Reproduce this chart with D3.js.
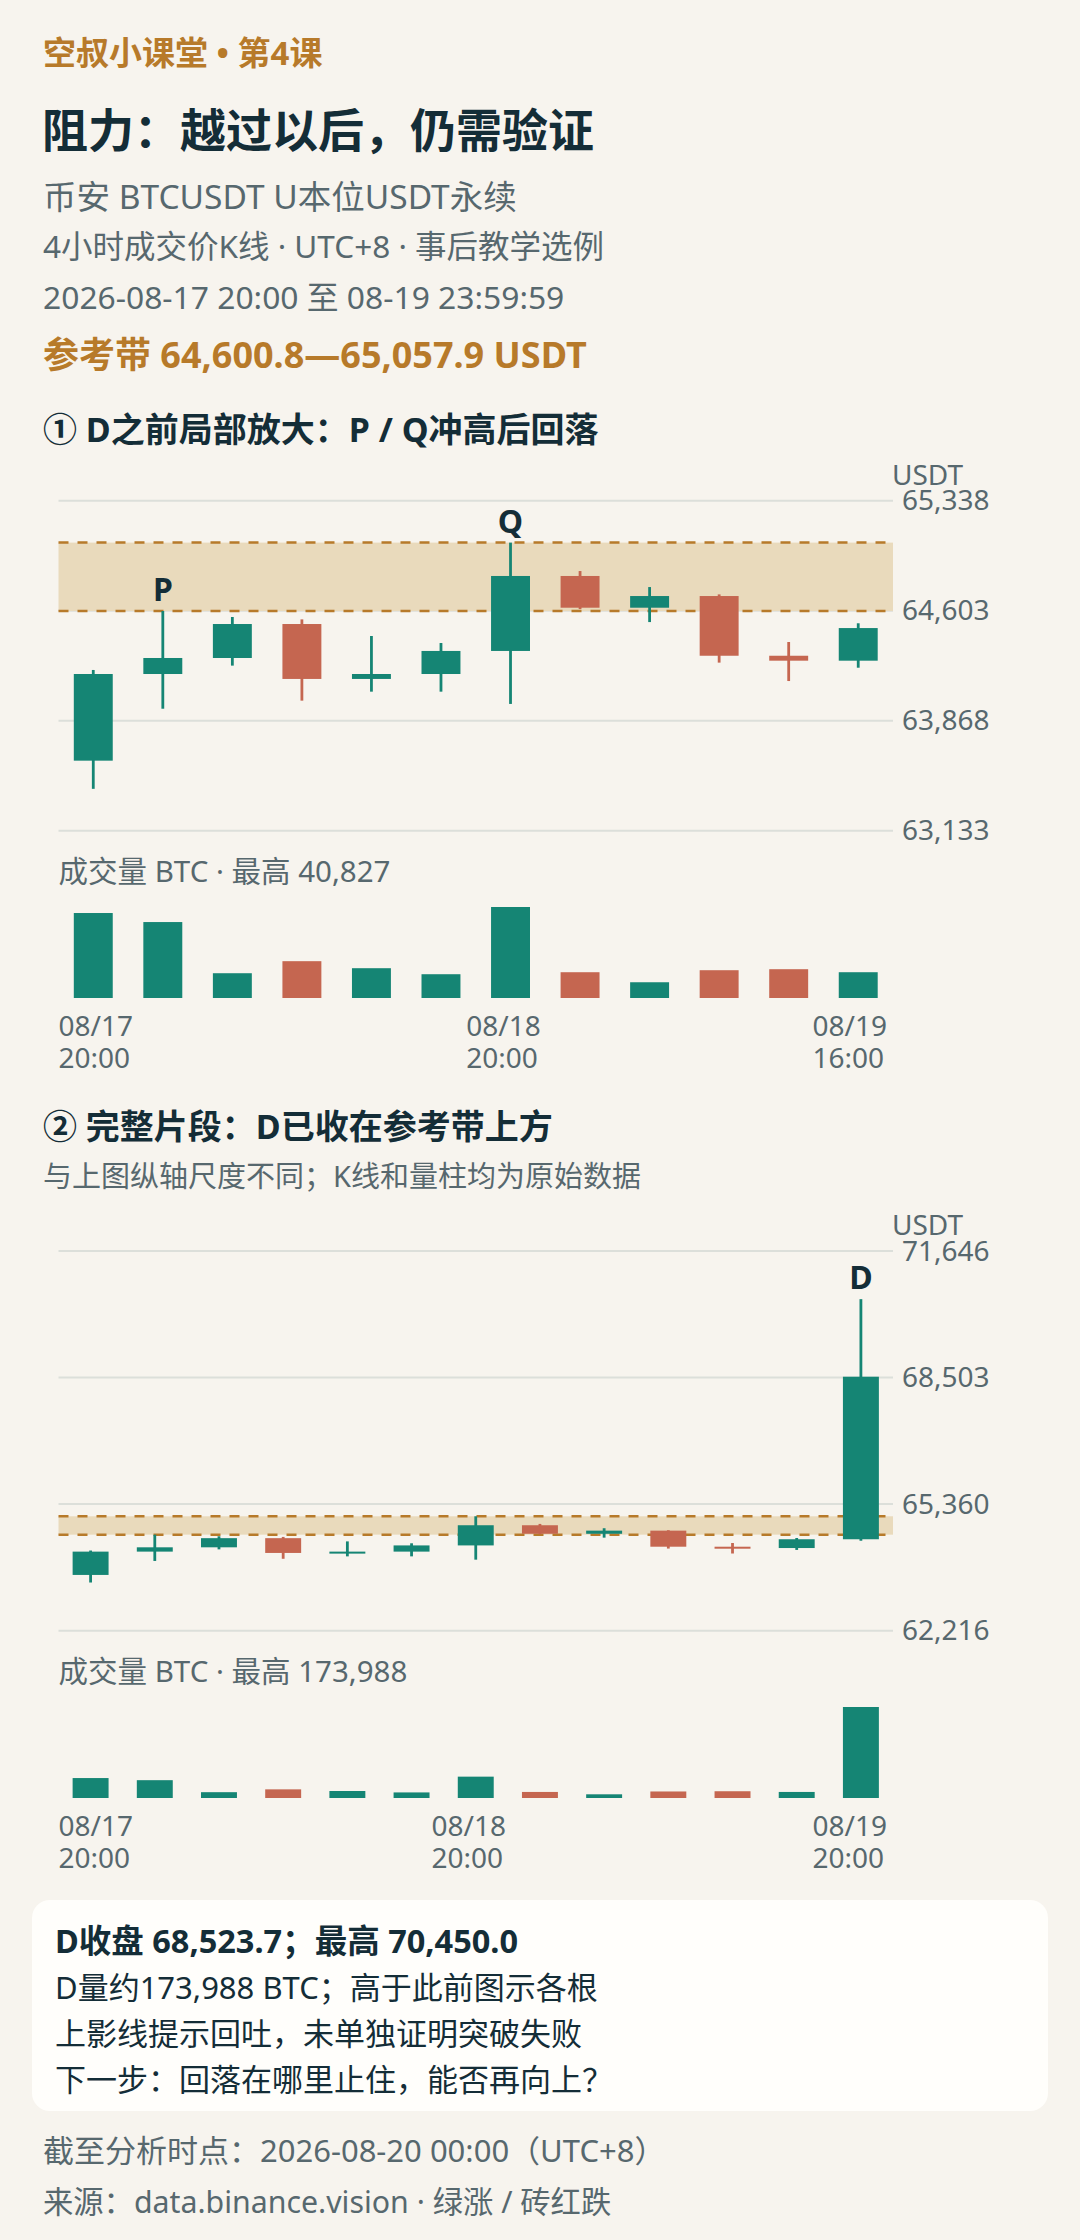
<!DOCTYPE html>
<html>
<head>
<meta charset="utf-8">
<script src="https://cdn.jsdelivr.net/npm/d3@7"></script>
<style>
  html, body { margin: 0; padding: 0; background: #f7f4ee; }
  svg { display: block; }
  text { font-family: "Noto Sans", "Noto Sans CJK SC", sans-serif; }
</style>
</head>
<body>
<svg id="chart" width="1080" height="2240"></svg>
<script>
/* DATA */
const times = ["08/17 20:00", "08/18 00:00", "08/18 04:00", "08/18 08:00", "08/18 12:00", "08/18 16:00",
  "08/18 20:00", "08/19 00:00", "08/19 04:00", "08/19 08:00", "08/19 12:00", "08/19 16:00", "08/19 20:00"];
const opens  = [63601, 64180, 64287, 64514, 64147, 64180, 64334, 64835, 64623, 64701, 64302, 64269, 64487];
const highs  = [64207, 64600.8, 64561, 64545, 64434, 64387, 65057.9, 64868, 64761, 64712, 64394, 64519, 70450.0];
const lows   = [63412.7, 63948, 64236, 64002, 64062, 64062, 63980, 64614, 64527, 64256, 64133, 64222, 64450];
const closes = [64180, 64287, 64514, 64147, 64180, 64334, 64835, 64623, 64701, 64302, 64269, 64487, 68523.7];
const volumes = [38126, 34075, 11118, 16520, 13369, 10668, 40827, 11568, 7067, 12469, 12919, 11568, 173988];

const band = [64600.8, 65057.9];
const ticksZoom = [63133, 63868, 64603, 65338];
const ticksFull = [62216, 65360, 68503, 71646];
const marksZoom = [{i: 1, label: "P"}, {i: 6, label: "Q"}];
const marksFull = [{i: 12, label: "D"}];

const GREEN = "#158574", RED = "#c56650", DARK = "#142d37", GRAY = "#57686e", GOLD = "#b77a2a";

const svg = d3.select("#chart");

const candles = times.map((t, i) => ({
  t: t, o: opens[i], h: highs[i], l: lows[i], c: closes[i], v: volumes[i], i: i
}));

/* HEADER */
function addText(x, y, str, size, color, weight) {
  return svg.append("text").attr("x", x).attr("y", y)
    .attr("font-size", size).attr("fill", color)
    .attr("font-weight", weight || 400).text(str);
}

addText(43, 65, "空叔小课堂 • 第4课", 33, GOLD, 700);
addText(42, 147, "阻力：越过以后，仍需验证", 46, DARK, 700);
addText(43, 209, "币安 BTCUSDT U本位USDT永续", 33.5, GRAY);
addText(43, 258, "4小时成交价K线 · UTC+8 · 事后教学选例", 31.5, GRAY);
addText(43, 309, "2026-08-17 20:00 至 08-19 23:59:59", 31.8, GRAY);
addText(43, 368, "参考带 64,600.8—65,057.9 USDT", 36, GOLD, 700);

addText(43, 442, "① D之前局部放大：P / Q冲高后回落", 34, DARK, 700);
addText(43, 1139, "② 完整片段：D已收在参考带上方", 34, DARK, 700);
addText(43, 1187, "与上图纵轴尺度不同；K线和量柱均为原始数据", 29, GRAY);

/* CANDLE PANEL */
function drawPanel(data, ticks, marks, top, bottom, volTop, volBottom, labelY) {
  const left = 58.5, right = 893;
  const g = svg.append("g");

  const x = d3.scaleBand()
    .domain(data.map(d => d.t))
    .range([left, right])
    .paddingInner(0.44)
    .paddingOuter(0.22);

  const y = d3.scaleLinear()
    .domain([ticks[0], ticks[ticks.length - 1]])
    .range([bottom, top]);

  // grid + tick labels
  g.selectAll(".grid").data(ticks).join("line")
    .attr("x1", left).attr("x2", right)
    .attr("y1", d => y(d)).attr("y2", d => y(d))
    .attr("stroke", "#dcdfda").attr("stroke-width", 2);

  g.selectAll(".tick").data(ticks).join("text")
    .attr("x", 902).attr("y", d => y(d) + 2)
    .attr("dominant-baseline", "middle")
    .attr("font-size", 28).attr("fill", GRAY)
    .text(d => d3.format(",.0f")(d));

  g.append("text").attr("x", 892).attr("y", top - 16)
    .attr("font-size", 28).attr("fill", GRAY).text("USDT");

  // reference band
  g.append("rect")
    .attr("x", left).attr("width", right - left)
    .attr("y", y(band[1])).attr("height", y(band[0]) - y(band[1]))
    .attr("fill", "#e9dabc");
  g.selectAll(".bandline").data(band).join("line")
    .attr("x1", left).attr("x2", right)
    .attr("y1", d => y(d)).attr("y2", d => y(d))
    .attr("stroke", GOLD).attr("stroke-width", 2.5)
    .attr("stroke-dasharray", "10 9");

  const col = d => d.c >= d.o ? GREEN : RED;
  const cx = d => x(d.t) + x.bandwidth() / 2;

  // wicks
  g.selectAll(".wick").data(data).join("line")
    .attr("x1", cx).attr("x2", cx)
    .attr("y1", d => y(d.h)).attr("y2", d => y(d.l))
    .attr("stroke", col).attr("stroke-width", 2.8);

  // bodies
  g.selectAll(".body").data(data).join("rect")
    .attr("x", d => x(d.t)).attr("width", x.bandwidth())
    .attr("y", d => y(Math.max(d.o, d.c)))
    .attr("height", d => Math.max(2, Math.abs(y(d.o) - y(d.c))))
    .attr("fill", col);

  // P / Q / D letters
  g.selectAll(".mark").data(marks).join("text")
    .attr("x", m => cx(data[m.i]))
    .attr("y", m => y(data[m.i].h) - 10)
    .attr("text-anchor", "middle")
    .attr("font-size", 32).attr("font-weight", 700).attr("fill", DARK)
    .text(m => m.label);

  // volume
  const vmax = d3.max(data, d => d.v);
  const vy = d3.scaleLinear().domain([0, vmax]).range([volBottom, volTop]);

  g.append("text").attr("x", left).attr("y", labelY)
    .attr("font-size", 29.5).attr("fill", GRAY)
    .text("成交量 BTC · 最高 " + d3.format(",")(vmax));

  g.selectAll(".vol").data(data).join("rect")
    .attr("x", d => x(d.t)).attr("width", x.bandwidth())
    .attr("y", d => vy(d.v)).attr("height", d => volBottom - vy(d.v))
    .attr("fill", col);

  // time labels: first, middle (20:00 next day), last; kept inside the plot
  const picks = [0, 6, data.length - 1];
  picks.forEach(i => {
    const parts = data[i].t.split(" ");
    const lbl = g.append("text").attr("font-size", 28).attr("fill", GRAY)
      .attr("y", volBottom + 38);
    parts.forEach((p, k) => {
      lbl.append("tspan").attr("x", 0).attr("dy", k === 0 ? 0 : 32).text(p);
    });
    const w = lbl.node().getBBox().width;
    let x0 = cx(data[i]) - w / 2 - 7;
    x0 = Math.max(left, Math.min(right - 6 - w, x0));
    lbl.selectAll("tspan").attr("x", x0);
  });
}

drawPanel(candles.slice(0, 12), ticksZoom, marksZoom, 500.7, 830.7, 907, 998, 882);
drawPanel(candles, ticksFull, marksFull, 1251, 1630.7, 1707, 1798, 1682);

/* NOTE BOX */
svg.append("rect")
  .attr("x", 32).attr("y", 1900).attr("width", 1016).attr("height", 211)
  .attr("rx", 18).attr("fill", "#fffefb");

const dLast = candles[candles.length - 1];
const noteLines = [
  "D收盘 " + d3.format(",.1f")(dLast.c) + "；最高 " + d3.format(",.1f")(dLast.h),
  "D量约" + d3.format(",")(dLast.v) + " BTC；高于此前图示各根",
  "上影线提示回吐，未单独证明突破失败",
  "下一步：回落在哪里止住，能否再向上？"
];
noteLines.forEach((s, i) => {
  addText(55, 1953 + i * 46, s, i === 0 ? 32.5 : 31, DARK, i === 0 ? 700 : 400);
});

/* FOOTER */
addText(43, 2162, "截至分析时点：2026-08-20 00:00（UTC+8）", 31, GRAY);
addText(43, 2213, "来源：data.binance.vision · 绿涨 / 砖红跌", 30.3, GRAY);
</script>
</body>
</html>
